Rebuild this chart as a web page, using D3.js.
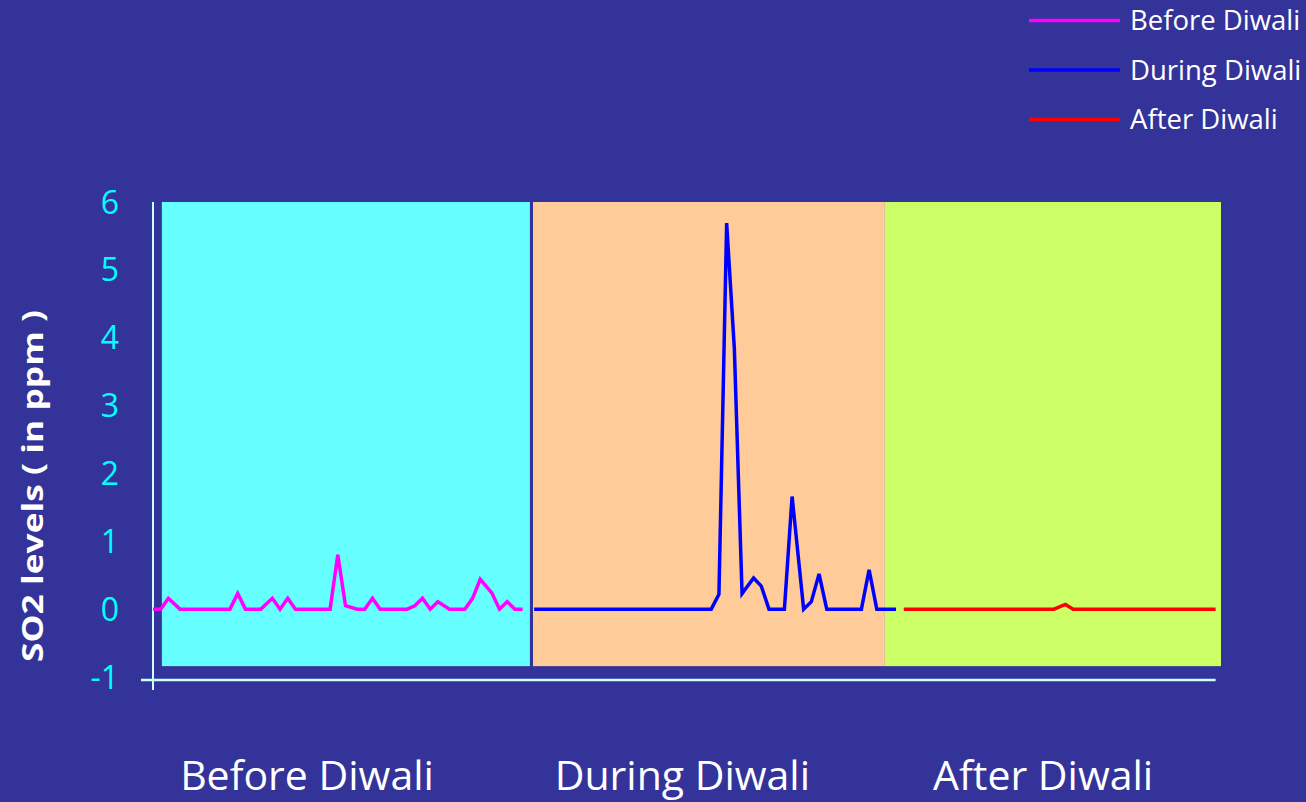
<!DOCTYPE html>
<html>
<head>
<meta charset="utf-8">
<script src="https://cdn.jsdelivr.net/npm/d3@7/dist/d3.min.js"></script>
<style>
  html, body { margin: 0; padding: 0; background: #333399; }
  svg { display: block; }
</style>
</head>
<body>
<svg id="chart" width="1306" height="802"></svg>
<script>
// ---- data ----
const periods = ["Before Diwali", "During Diwali", "After Diwali"];
const periodStart = [2.3, 98.7, 190.1];
const periodEnd = [97.9, 190.1, 277.4];
const periodColors = ["#66FFFF", "#FFCC99", "#CCFF66"];
const periodLabelT = [40, 137.5, 231.2];

const beforeT = [0, 2, 4, 7, 20, 22, 24, 28, 31, 33, 35, 37, 46, 48, 50, 53, 55, 57, 59, 66, 68, 70, 72, 74, 77, 81, 83, 85, 88, 90, 92, 94, 96];
const beforeV = [0, 0, 0.16, 0, 0, 0.23, 0, 0, 0.16, 0, 0.16, 0, 0, 0.80, 0.05, 0, 0, 0.16, 0, 0, 0.05, 0.16, 0, 0.11, 0, 0, 0.16, 0.44, 0.24, 0, 0.11, 0, 0];

const duringT = [99, 145, 147, 149, 151, 153, 156, 158, 160, 164, 166, 169, 171, 173, 175, 184, 186, 188, 193];
const duringV = [0, 0, 0.22, 5.69, 3.84, 0.23, 0.46, 0.34, 0, 0, 1.66, 0, 0.11, 0.52, 0, 0, 0.58, 0, 0];

const afterT = [195, 234, 237, 239, 276];
const afterV = [0, 0, 0.07, 0, 0];

const yTicks = [-1, 0, 1, 2, 3, 4, 5, 6];
const seriesNames = ["Before Diwali", "During Diwali", "After Diwali"];
const seriesColors = ["#FF00FF", "#0000FF", "#FF0000"];
const yTitle = "SO2 levels ( in ppm )";
const bandBottom = -0.84;

// ---- scales ----
const svg = d3.select("#chart");
const x = d3.scaleLinear().domain([0, 276]).range([153, 1215.6]);
const y = d3.scaleLinear().domain([-1, 6]).range([677, 202]);

// background bands
svg.selectAll("rect.band").data(periods).enter().append("rect")
  .attr("class", "band")
  .attr("x", (d, i) => x(periodStart[i]))
  .attr("width", (d, i) => x(periodEnd[i]) - x(periodStart[i]))
  .attr("y", y(6))
  .attr("height", y(bandBottom) - y(6))
  .attr("fill", (d, i) => periodColors[i]);

// axes
const axisColor = "#CCFFFF";
svg.append("line")
  .attr("x1", x(0)).attr("x2", x(0))
  .attr("y1", y(6)).attr("y2", y(-1) + 13)
  .attr("stroke", axisColor).attr("stroke-width", 2);
svg.append("line")
  .attr("x1", x(0) - 12).attr("x2", x(276))
  .attr("y1", y(-1) + 3).attr("y2", y(-1) + 3)
  .attr("stroke", axisColor).attr("stroke-width", 2.5);

// y tick labels
svg.selectAll("text.ytick").data(yTicks).enter().append("text")
  .attr("class", "ytick")
  .attr("x", 119)
  .attr("y", d => y(d))
  .attr("dy", "0.36em")
  .attr("text-anchor", "end")
  .attr("font-family", "Open Sans, sans-serif")
  .attr("font-size", 32)
  .attr("fill", "#00FFFF")
  .text(d => d);

// y title
svg.append("text")
  .attr("transform", "translate(43,486) rotate(-90)")
  .attr("text-anchor", "middle")
  .attr("font-family", "Open Sans, sans-serif")
  .attr("font-weight", "bold")
  .attr("font-size", 29)
  .attr("textLength", 352)
  .attr("lengthAdjust", "spacingAndGlyphs")
  .attr("fill", "#FFFFFF")
  .text(yTitle);

// category labels
svg.selectAll("text.cat").data(periods).enter().append("text")
  .attr("class", "cat")
  .attr("x", (d, i) => x(periodLabelT[i]))
  .attr("y", 790)
  .attr("text-anchor", "middle")
  .attr("font-family", "Open Sans, sans-serif")
  .attr("font-size", 41)
  .attr("fill", "#FFFFFF")
  .text(d => d);

// lines
const line = d3.line().x(d => x(d[0])).y(d => y(d[1]));
const series = [
  beforeT.map((t, i) => [t, beforeV[i]]),
  duringT.map((t, i) => [t, duringV[i]]),
  afterT.map((t, i) => [t, afterV[i]])
];
svg.selectAll("path.series").data(series).enter().append("path")
  .attr("class", "series")
  .attr("d", line)
  .attr("fill", "none")
  .attr("stroke", (d, i) => seriesColors[i])
  .attr("stroke-width", 3.5)
  .attr("stroke-linejoin", "miter");

// legend
const legend = svg.selectAll("g.leg").data(seriesNames).enter().append("g")
  .attr("class", "leg")
  .attr("transform", (d, i) => `translate(1029, ${20.5 + i * 49.5})`);
legend.append("line")
  .attr("x1", 0).attr("x2", 91).attr("y1", 0).attr("y2", 0)
  .attr("stroke", (d, i) => seriesColors[i]).attr("stroke-width", 3.5);
legend.append("text")
  .attr("x", 101).attr("y", 0).attr("dy", "0.36em")
  .attr("font-family", "Open Sans, sans-serif")
  .attr("font-size", 27.5)
  .attr("fill", "#FFFFFF")
  .text(d => d);
</script>
</body>
</html>
